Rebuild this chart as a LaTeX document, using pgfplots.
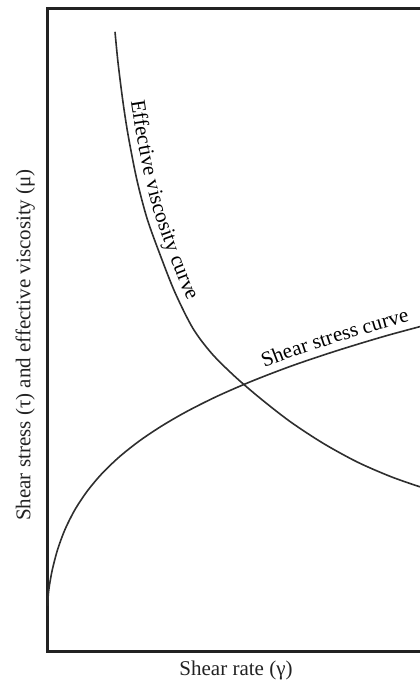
\documentclass[border=0pt]{standalone}
\usepackage{fontspec}
\setmainfont{Liberation Serif}
\usepackage{pgfplots}
\pgfplotsset{compat=1.18}
\usetikzlibrary{decorations.text}
\definecolor{ink}{HTML}{222222}
\definecolor{curvegray}{HTML}{2E2E2E}
\newcommand\labelfont{\fontsize{10.5}{12}\selectfont}

\begin{document}
\begin{tikzpicture}
\begin{axis}[
  at={(23.75pt,15pt)}, anchor=south west,
  x=0.5pt, y=0.5pt,
  xmin=47.5, xmax=450, ymin=0, ymax=642,
  xtick=\empty, ytick=\empty,
  axis line style={ink, line width=1.5pt},
  xlabel={Shear rate (γ)},
  xlabel style={at={(axis cs:236,-25)}, anchor=base, font=\labelfont, text=ink},
  ylabel={Shear stress (τ) and effective viscosity (μ)},
  ylabel style={at={(axis cs:30.5,306)}, anchor=base, font=\labelfont, text=ink},
]
% effective viscosity: falls steeply, then levels off
\addplot[curvegray, line width=0.8pt, smooth, mark=none]
  coordinates {
  (115,619.2) (118,588.6) (122.7,551.0) (128,516.5) (136.7,472.0)
  (147,432.7) (160,396.5) (175,358.5) (193,322.5) (212,297.2)
  (235,274.4) (260,252.9) (290,229.5) (323,207.8) (357,189.1)
  (390,174.7) (419,164.5) (445,156.7)
  };
% shear stress: rises quickly from the origin, then flattens
\addplot[curvegray, line width=0.8pt, smooth, mark=none]
  coordinates {
  (47.5,45) (48.5,58.6) (50,69.0) (52.5,82.1) (57.5,101.1) (65,121.5)
  (75,141.4) (87.5,160.2) (102.5,178.0) (120,194.7) (140,210.5)
  (162.5,225.5) (187.5,239.9) (217.5,254.9) (252.5,270.1)
  (292.5,285.4) (337.5,300.5) (387.5,315.6) (445,331.0)
  };
% curve names: baseline runs parallel to the viscosity curve, on its right
\addplot[draw=none, mark=none, text=black,
  postaction={decorate},
  decoration={text along path,
    text={|\labelfont|Effective viscosity curve},
    text align={left indent=20pt}, raise=0pt}]
  coordinates {
  (125.9,589.5) (130.6,552.1) (135.9,517.9) (144.5,473.8) (154.7,435.0)
  (167.5,399.3) (182.3,361.7) (199.8,326.6) (218.0,302.4) (240.4,280.3)
  };
\addplot[draw=none, mark=none, text=black,
  postaction={decorate},
  decoration={text along path,
    text={|\labelfont|Shear stress curve},
    text align={left indent=27pt}, raise=4pt}]
  coordinates {
  (217.5,254.9) (252.5,270.1) (292.5,285.4) (337.5,300.5)
  (387.5,315.6) (445,331.0)
  };
\end{axis}
\pgfresetboundingbox
\path[use as bounding box] (0,0) rectangle (209.5pt,340.5pt);
\end{tikzpicture}
\end{document}
